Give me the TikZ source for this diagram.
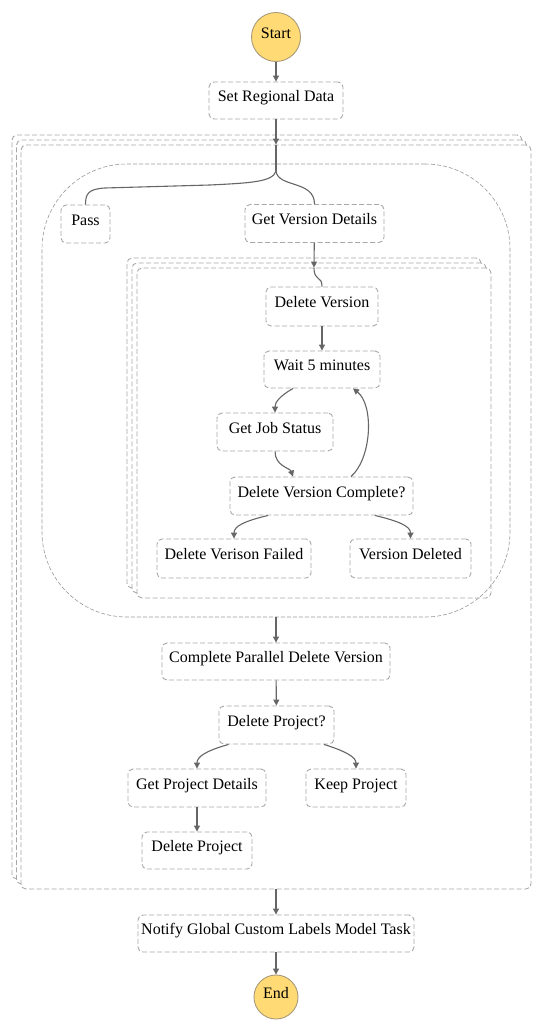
\documentclass[tikz,border=0pt]{standalone}
\usepackage{fontspec}
\setmainfont{Liberation Serif}
\usetikzlibrary{arrows.meta,calc}
\definecolor{boxgray}{HTML}{A8A8A8}
\definecolor{pargray}{HTML}{9A9A9A}
\definecolor{edgegray}{HTML}{666666}
\definecolor{startfill}{HTML}{FFDA75}
\definecolor{circgray}{HTML}{A89A7A}
\begin{document}
\begin{tikzpicture}[x=1pt,y=-1pt,
  font=\fontsize{16pt}{19pt}\selectfont,
  state/.style={draw=boxgray, line width=0.9pt, dash pattern=on 5pt off 2.5pt, rounded corners=5pt, fill=white, inner sep=0pt, minimum height=38pt, text height=10pt, text depth=7.6pt},
  term/.style={circle, draw=circgray, line width=0.9pt, fill=startfill, inner sep=0pt, text height=10pt, text depth=7.6pt},
  mapbox/.style={draw=boxgray, line width=0.9pt, dash pattern=on 5pt off 2.5pt, rounded corners=5pt, fill=white, inner sep=0pt},
  parbox/.style={draw=pargray, line width=0.6pt, dash pattern=on 4pt off 2pt, rounded corners=85pt, inner sep=0pt},
  conn/.style={draw=edgegray, line width=1.1pt},
  arr/.style={conn, -{Triangle[length=6pt,width=6pt]}}]
\useasboundingbox[fill=white] (0,0) rectangle (543,1032);

% outer map (stacked)
\node[mapbox, minimum width=510pt, minimum height=744pt] (outerB) at (267,507) {};
\node[mapbox, minimum width=510pt, minimum height=744pt] (outerM) at (271.5,512) {};
\node[mapbox, minimum width=510pt, minimum height=744pt] (outerF) at (276,517) {};
% inner map (stacked)
\node[mapbox, minimum width=354pt, minimum height=330pt] (innerB) at (304,423) {};
\node[mapbox, minimum width=354pt, minimum height=330pt] (innerM) at (309,428) {};
\node[mapbox, minimum width=354pt, minimum height=330pt] (innerF) at (314,433) {};
% parallel region
\node[parbox, minimum width=468pt, minimum height=453pt] (par) at (276,390.5) {};

% states
\node[term, minimum size=49pt] (startN) at (276,37) {Start};
\node[state, minimum width=134pt, minimum height=37pt] (srd) at (276,100.5) {Set Regional Data};
\node[state, minimum width=49pt] (pass) at (85.5,224) {Pass};
\node[state, minimum width=139pt] (gvd) at (314.5,223.5) {Get Version Details};
\node[state, minimum width=112pt, minimum height=39pt] (dv) at (322,306.5) {Delete Version};
\node[state, minimum width=116pt, minimum height=37pt] (wait) at (322,369.5) {Wait 5 minutes};
\node[state, minimum width=116pt] (gjs) at (275,432) {Get Job Status};
\node[state, minimum width=183pt] (dvc) at (321.5,496) {Delete Version Complete?};
\node[state, minimum width=154pt, minimum height=39pt] (dvf) at (234,558.5) {Delete Verison Failed};
\node[state, minimum width=121pt, minimum height=39pt] (vd) at (410.5,558.5) {Version Deleted};
\node[state, minimum width=228pt, minimum height=37pt] (cpdv) at (276,661.5) {Complete Parallel Delete Version};
\node[state, minimum width=115pt] (dpq) at (276.5,725) {Delete Project?};
\node[state, minimum width=138pt] (gpd) at (197,788) {Get Project Details};
\node[state, minimum width=100pt] (kp) at (356,788) {Keep Project};
\node[state, minimum width=110pt, minimum height=37pt] (delp) at (197,850.5) {Delete Project};
\node[state, minimum width=276pt, minimum height=37pt] (notify) at (276,933.5) {Notify Global Custom Labels Model Task};
\node[term, minimum size=44pt] (stopN) at (276,997) {End};

% connectors
\coordinate (fork) at (276,171);
\draw[arr] (startN) -- (srd);
\draw[arr] (srd) -- (outerF.north);
\draw[conn] (outerF.north) -- (fork);
\draw[conn] (fork) .. controls (273,182) and (250,183) .. (210,185) -- (105,188) .. controls (88,189) and (85.5,194) .. (pass.north);
\draw[conn] (fork) .. controls (278,188) and (314.5,180) .. (gvd.north);
\draw[arr] (gvd) -- (innerF.north);
\draw[conn] (innerF.north) .. controls (314,282) and (322,275) .. (dv.north);
\draw[arr] (dv) -- (wait);
\draw[arr] ($(wait.south)+(-29,0)$) .. controls (280,396) and (275,402) .. (gjs.north);
\draw[arr] (gjs.south) .. controls (275,466) and (290,468) .. ($(dvc.north)+(-28.5,0)$);
\draw[arr] ($(dvc.north)+(29.5,0)$) .. controls (372,458) and (374,405) .. ($(wait.south)+(31,0)$);
\draw[arr] ($(dvc.south)+(-53.5,0)$) .. controls (245,521) and (234,526) .. (dvf.north);
\draw[arr] ($(dvc.south)+(53.5,0)$) .. controls (398,521) and (410.5,526) .. (vd.north);
\draw[arr] (par.south) -- (cpdv);
\draw[arr] (cpdv) -- (dpq);
\draw[arr] ($(dpq.south)+(-48,0)$) .. controls (205,751) and (197,757) .. (gpd.north);
\draw[arr] ($(dpq.south)+(47.5,0)$) .. controls (345,751) and (356,757) .. (kp.north);
\draw[arr] (gpd) -- (delp);
\draw[arr] (outerF.south) -- (notify);
\draw[arr] (notify) -- (stopN);
\end{tikzpicture}
\end{document}
